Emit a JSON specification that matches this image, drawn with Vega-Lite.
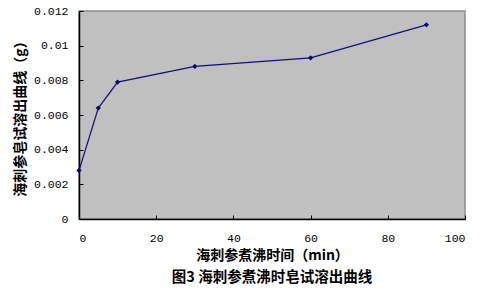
{
  "$schema": "https://vega.github.io/schema/vega-lite/v6.json",
  "width": 386,
  "height": 208,
  "autosize": {"type": "none"},
  "padding": {"left": 79, "top": 11, "right": 32, "bottom": 71},
  "background": "white",
  "title": {
    "text": "图3 海刺参煮沸时皂试溶出曲线",
    "orient": "bottom",
    "anchor": "middle",
    "offset": 8,
    "font": "Noto Sans CJK SC",
    "fontSize": 14.5,
    "fontWeight": "bold",
    "color": "#000000"
  },
  "data": {
    "values": [
      {"t": 0, "g": 0.0028},
      {"t": 5, "g": 0.0064},
      {"t": 10, "g": 0.0079},
      {"t": 30, "g": 0.0088},
      {"t": 60, "g": 0.0093},
      {"t": 90, "g": 0.0112}
    ]
  },
  "mark": {
    "type": "line",
    "color": "#10107a",
    "strokeWidth": 1.2,
    "point": {"shape": "diamond", "filled": true, "size": 28, "color": "#0a0a6e"}
  },
  "encoding": {
    "x": {
      "field": "t",
      "type": "quantitative",
      "scale": {"domain": [0, 100], "nice": false},
      "axis": {
        "values": [0, 20, 40, 60, 80, 100],
        "title": "海刺参煮沸时间（min）",
        "titleFont": "Noto Sans CJK SC",
        "titleFontSize": 14,
        "titleFontWeight": "bold",
        "titleColor": "#000000",
        "titlePadding": 5,
        "labelFont": "Liberation Mono",
        "labelFontSize": 11.5,
        "labelColor": "#000000",
        "labelPadding": 17,
        "tickSize": -4,
        "tickColor": "#000000",
        "domainColor": "#000000",
        "domainWidth": 1.5,
        "grid": false
      }
    },
    "y": {
      "field": "g",
      "type": "quantitative",
      "scale": {"domain": [0, 0.012], "nice": false},
      "axis": {
        "values": [0, 0.002, 0.004, 0.006, 0.008, 0.01, 0.012],
        "labelExpr": "datum.value == 0 ? '0' : format(datum.value, '.3~f')",
        "title": "海刺参皂试溶出曲线（g）",
        "titleFont": "Noto Sans CJK SC",
        "titleFontSize": 14,
        "titleFontWeight": "bold",
        "titleColor": "#000000",
        "titlePadding": 6,
        "labelFont": "Liberation Mono",
        "labelFontSize": 11.5,
        "labelColor": "#000000",
        "labelPadding": 15,
        "tickSize": -4,
        "tickColor": "#000000",
        "domainColor": "#000000",
        "domainWidth": 1.5,
        "grid": false
      }
    }
  },
  "config": {
    "view": {"fill": "#c0c0c0", "stroke": "#8c8c8c", "strokeWidth": 1.5}
  }
}
